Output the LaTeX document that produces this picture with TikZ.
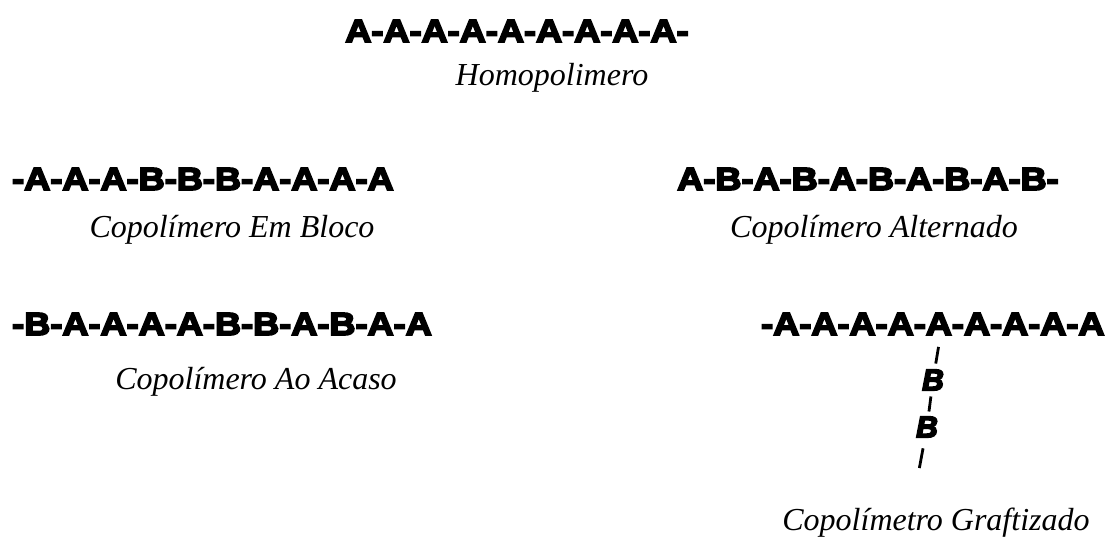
\documentclass[tikz,border=0pt]{standalone}
\usepackage{fontspec}
\setmainfont{Liberation Serif}
% heavy, wide sans for the monomer chains
\newfontfamily\chainfont[FakeBold=5.5,FakeStretch=1.13]{Liberation Sans Bold}
\newfontfamily\graftfont[FakeBold=5.5]{Liberation Sans Bold Italic}
\tikzset{
  chainrow/.style={font=\chainfont\fontsize{32}{32}\selectfont, inner sep=0pt},
  caption/.style={font=\itshape\fontsize{32}{32}\selectfont, inner sep=0pt, anchor=base},
  branch/.style={font=\graftfont\fontsize{30}{30}\selectfont, inner sep=0pt},
  bond/.style={line width=2.8pt}
}
\begin{document}
\begin{tikzpicture}[x=1pt,y=1pt]
\useasboundingbox (0,0) rectangle (1116,541);
% homopolymer
\node[chainrow] (homo) at (517,510) {A-A-A-A-A-A-A-A-A-};
\node[caption] (homocap) at (552,455) {Homopolimero};
% block copolymer
\node[chainrow, anchor=west] (blk) at (12,362) {-A-A-A-B-B-B-A-A-A-A};
\node[caption] (blkcap) at (232,303) {Copolímero Em Bloco};
% alternating copolymer
\node[chainrow] (alt) at (868,362) {A-B-A-B-A-B-A-B-A-B-};
\node[caption] (altcap) at (874,303) {Copolímero Alternado};
% random copolymer
\node[chainrow, anchor=west] (rnd) at (12,217) {-B-A-A-A-A-B-B-A-B-A-A};
\node[caption] (rndcap) at (256,151) {Copolímero Ao Acaso};
% graft copolymer
\node[chainrow, anchor=west] (graft) at (761,217) {-A-A-A-A-A-A-A-A-A};
\coordinate (ga) at (939.5,200);
\node[branch] (b1) at (933,161) {B};
\node[branch] (b2) at (927,114) {B};
\coordinate (gend) at (919,71);
\draw[bond, shorten <=6pt, shorten >=6pt] (ga) -- (b1);
\draw[bond, shorten <=6pt, shorten >=5pt] (b1) -- (b2);
\draw[bond, shorten <=11pt, shorten >=2pt] (b2) -- (gend);
\node[caption] (graftcap) at (936,11) {Copolímetro Graftizado};
\end{tikzpicture}
\end{document}
